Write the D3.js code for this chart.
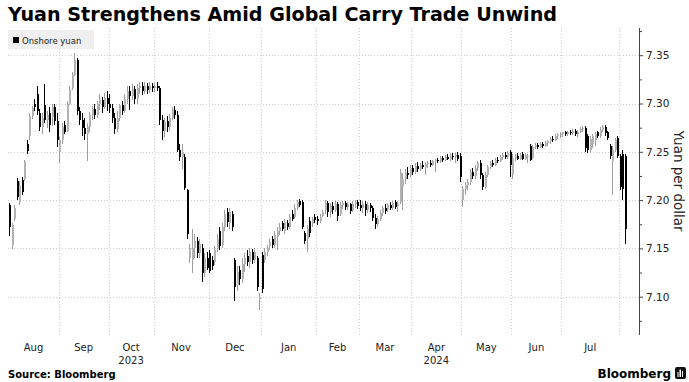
<!DOCTYPE html>
<html><head><meta charset="utf-8">
<script src="https://cdn.jsdelivr.net/npm/d3@7/dist/d3.min.js"></script>
<style>body{margin:0;background:#fff}svg{display:block}</style>
</head><body><svg id="c" width="689" height="382"></svg>
<script>
// ---- data ----
const months = ["Aug","Sep","Oct","Nov","Dec","Jan","Feb","Mar","Apr","May","Jun","Jul","Aug"];
const monthDays = [20,20,18,22,21,22,17,21,20,20,20,23,3];
const yearLabels = [{label:"2023", month:2},{label:"2024", month:8}];
const yTicks = [7.10,7.15,7.20,7.25,7.30,7.35];
const yMinorTicks = [7.075,7.125,7.175,7.225,7.275,7.325,7.375];

const opens = [
7.195,7.153,7.180,7.220,7.198,7.221,7.222,7.258,7.266,7.287,7.300,7.310,7.290,7.276,7.298,7.283,7.290,7.286,7.296,7.282,
7.250,7.262,7.278,7.272,7.300,7.316,7.330,7.345,7.292,7.283,7.275,7.268,7.276,7.288,7.294,7.288,7.299,7.304,7.296,7.306,
7.300,7.295,7.285,7.274,7.285,7.298,7.292,7.305,7.313,7.308,7.315,7.305,7.316,7.318,7.313,7.318,7.314,7.318,
7.316,7.318,7.316,7.283,7.272,7.282,7.276,7.285,7.293,7.288,7.252,7.245,7.245,7.210,7.140,7.138,7.150,7.158,7.145,7.150,7.125,7.140,
7.145,7.138,7.136,7.150,7.168,7.154,7.172,7.188,7.176,7.186,7.138,7.112,7.128,7.118,7.134,7.142,7.136,7.146,7.138,7.140,7.098,
7.143,7.138,7.146,7.152,7.160,7.154,7.162,7.168,7.176,7.168,7.176,7.172,7.186,7.182,7.192,7.199,7.198,7.166,7.160,7.178,7.175,7.182,
7.180,7.178,7.184,7.190,7.197,7.188,7.194,7.190,7.196,7.186,7.195,7.197,7.193,7.196,7.190,7.196,7.198,
7.195,7.192,7.196,7.190,7.195,7.192,7.181,7.175,7.180,7.187,7.192,7.190,7.195,7.192,7.198,7.194,7.198,7.214,7.222,7.228,7.226,
7.233,7.229,7.235,7.232,7.236,7.234,7.237,7.238,7.236,7.240,7.241,7.240,7.244,7.242,7.245,7.243,7.246,7.245,7.247,7.246,
7.200,7.212,7.216,7.219,7.229,7.225,7.233,7.238,7.226,7.214,7.226,7.234,7.238,7.236,7.242,7.240,7.245,7.247,7.245,7.250,
7.226,7.244,7.246,7.243,7.248,7.243,7.245,7.256,7.244,7.255,7.257,7.255,7.258,7.256,7.259,7.261,7.263,7.262,7.266,7.267,
7.268,7.270,7.268,7.271,7.269,7.272,7.268,7.271,7.274,7.275,7.266,7.252,7.258,7.262,7.270,7.266,7.273,7.276,7.270,7.256,7.240,7.252,7.264,
7.246,7.248,7.246];
const highs = [
7.197,7.176,7.195,7.223,7.220,7.224,7.242,7.262,7.290,7.297,7.305,7.318,7.294,7.290,7.320,7.292,7.296,7.300,7.300,7.290,
7.265,7.280,7.282,7.303,7.318,7.333,7.352,7.347,7.296,7.290,7.285,7.280,7.291,7.297,7.300,7.303,7.310,7.307,7.311,7.313,
7.310,7.300,7.290,7.292,7.300,7.303,7.310,7.318,7.318,7.320,7.318,7.320,7.322,7.322,7.322,7.321,7.322,7.321,
7.321,7.322,7.318,7.288,7.285,7.287,7.289,7.296,7.297,7.292,7.258,7.258,7.248,7.212,7.155,7.170,7.165,7.162,7.160,7.155,7.145,7.146,
7.148,7.142,7.152,7.165,7.172,7.176,7.190,7.192,7.192,7.189,7.140,7.132,7.132,7.140,7.145,7.148,7.150,7.149,7.150,7.142,7.104,
7.146,7.150,7.154,7.160,7.163,7.168,7.172,7.176,7.178,7.180,7.179,7.186,7.190,7.196,7.200,7.201,7.200,7.168,7.174,7.182,7.182,7.186,
7.184,7.186,7.190,7.200,7.199,7.197,7.198,7.199,7.198,7.198,7.199,7.199,7.198,7.197,7.199,7.200,7.200,
7.200,7.199,7.199,7.198,7.197,7.194,7.186,7.184,7.190,7.194,7.196,7.197,7.198,7.199,7.200,7.199,7.232,7.228,7.232,7.234,7.236,
7.236,7.238,7.239,7.238,7.240,7.239,7.240,7.241,7.242,7.243,7.244,7.246,7.246,7.247,7.248,7.249,7.249,7.249,7.250,7.249,
7.215,7.219,7.222,7.232,7.233,7.236,7.240,7.242,7.228,7.229,7.236,7.240,7.242,7.244,7.245,7.247,7.249,7.250,7.251,7.252,
7.248,7.248,7.249,7.249,7.250,7.249,7.248,7.258,7.257,7.259,7.259,7.260,7.260,7.261,7.262,7.265,7.266,7.268,7.269,7.270,
7.271,7.272,7.272,7.273,7.274,7.274,7.273,7.276,7.277,7.277,7.268,7.266,7.268,7.270,7.272,7.276,7.278,7.278,7.272,7.258,7.256,7.264,7.266,
7.248,7.252,7.248];
const lows = [
7.163,7.149,7.178,7.200,7.195,7.205,7.220,7.248,7.262,7.284,7.292,7.288,7.272,7.268,7.280,7.275,7.270,7.277,7.278,7.255,
7.238,7.258,7.268,7.270,7.298,7.314,7.328,7.288,7.278,7.266,7.262,7.240,7.270,7.283,7.284,7.285,7.293,7.290,7.294,7.292,
7.290,7.280,7.268,7.270,7.282,7.288,7.290,7.300,7.293,7.304,7.300,7.300,7.310,7.309,7.310,7.310,7.311,7.312,
7.312,7.313,7.278,7.262,7.265,7.270,7.272,7.283,7.284,7.250,7.240,7.232,7.210,7.160,7.135,7.125,7.140,7.140,7.140,7.115,7.120,7.128,
7.124,7.128,7.133,7.146,7.148,7.150,7.168,7.172,7.170,7.168,7.096,7.106,7.112,7.114,7.126,7.132,7.130,7.134,7.135,7.106,7.086,
7.104,7.135,7.142,7.148,7.150,7.150,7.148,7.164,7.168,7.165,7.169,7.170,7.178,7.180,7.190,7.193,7.170,7.155,7.146,7.162,7.172,7.176,
7.174,7.176,7.182,7.186,7.182,7.183,7.186,7.188,7.178,7.184,7.191,7.190,7.190,7.186,7.188,7.192,7.191,
7.189,7.187,7.184,7.187,7.188,7.178,7.170,7.172,7.178,7.184,7.186,7.188,7.190,7.190,7.191,7.188,7.196,7.190,7.217,7.222,7.224,
7.226,7.227,7.229,7.230,7.232,7.226,7.233,7.234,7.235,7.229,7.238,7.238,7.239,7.240,7.241,7.240,7.242,7.238,7.240,7.219,
7.193,7.205,7.210,7.216,7.222,7.222,7.230,7.222,7.210,7.212,7.224,7.232,7.234,7.235,7.238,7.239,7.242,7.243,7.243,7.224,
7.222,7.240,7.241,7.242,7.241,7.242,7.238,7.240,7.243,7.253,7.253,7.254,7.254,7.255,7.256,7.258,7.260,7.261,7.263,7.264,
7.265,7.266,7.266,7.267,7.267,7.266,7.265,7.269,7.270,7.250,7.249,7.250,7.254,7.256,7.264,7.264,7.270,7.266,7.262,7.243,7.205,7.250,7.244,
7.210,7.200,7.155];
const closes = [
7.172,7.174,7.192,7.203,7.216,7.208,7.240,7.251,7.287,7.295,7.296,7.292,7.276,7.285,7.283,7.288,7.278,7.296,7.282,7.262,
7.262,7.276,7.271,7.300,7.315,7.330,7.345,7.292,7.283,7.275,7.268,7.276,7.288,7.294,7.288,7.299,7.304,7.296,7.306,7.300,
7.295,7.285,7.274,7.285,7.298,7.292,7.305,7.313,7.308,7.315,7.305,7.316,7.318,7.313,7.318,7.314,7.318,7.316,
7.318,7.316,7.283,7.272,7.282,7.276,7.285,7.293,7.288,7.252,7.245,7.250,7.213,7.165,7.150,7.150,7.158,7.145,7.155,7.125,7.140,7.130,
7.127,7.132,7.148,7.160,7.152,7.172,7.186,7.177,7.188,7.172,7.110,7.126,7.118,7.134,7.140,7.136,7.146,7.138,7.146,7.110,7.100,
7.108,7.146,7.150,7.157,7.154,7.164,7.168,7.172,7.170,7.177,7.172,7.182,7.180,7.192,7.198,7.195,7.172,7.158,7.170,7.166,7.180,7.179,
7.178,7.183,7.188,7.197,7.188,7.194,7.190,7.196,7.184,7.195,7.197,7.193,7.196,7.189,7.196,7.198,7.194,
7.192,7.196,7.190,7.195,7.192,7.181,7.175,7.180,7.187,7.192,7.189,7.195,7.192,7.197,7.193,7.196,7.229,7.222,7.228,7.226,7.233,
7.229,7.235,7.232,7.236,7.234,7.237,7.238,7.236,7.240,7.241,7.240,7.244,7.242,7.245,7.243,7.246,7.245,7.247,7.243,7.224,
7.212,7.216,7.219,7.229,7.225,7.233,7.238,7.226,7.214,7.226,7.234,7.238,7.236,7.242,7.240,7.245,7.247,7.245,7.249,7.236,
7.244,7.246,7.243,7.247,7.243,7.247,7.246,7.242,7.255,7.257,7.255,7.258,7.256,7.259,7.261,7.263,7.262,7.266,7.267,7.268,
7.270,7.268,7.271,7.269,7.272,7.268,7.271,7.274,7.275,7.254,7.252,7.263,7.266,7.268,7.266,7.273,7.276,7.269,7.264,7.246,7.252,7.262,7.246,
7.214,7.212,7.170];

// ---- layout ----
(function () {
const svg = d3.select("#c");
const N = d3.sum(monthDays);
const axisX = 639, plotTop = 28, plotBottom = 335;
const x = d3.scaleLinear().domain([0, N]).range([8.5, 626.5]);
const y = d3.scaleLinear().domain([7.0603, 7.3782]).range([plotBottom, plotTop]);
const FONT = "'DejaVu Sans', sans-serif";

// title
svg.append("text").attr("x", 8).attr("y", 21)
  .attr("font-family", FONT).attr("font-weight", "bold").attr("font-size", 20)
  .attr("textLength", 549).attr("lengthAdjust", "spacingAndGlyphs")
  .attr("fill", "#000").text("Yuan Strengthens Amid Global Carry Trade Unwind");

// gridlines
const grid = svg.append("g").attr("stroke", "#cfcfcf").attr("stroke-width", 1).attr("stroke-dasharray", "1,2");
grid.selectAll("line.h").data(yTicks).join("line").attr("class", "h")
  .attr("x1", 8).attr("x2", axisX).attr("y1", d => Math.round(y(d)) + 0.5).attr("y2", d => Math.round(y(d)) + 0.5);
const bounds = Array.from(d3.cumsum(monthDays));
const starts = [0, ...bounds.slice(0, -1)];
grid.selectAll("line.v").data(starts.slice(1)).join("line").attr("class", "v")
  .attr("x1", d => Math.round(x(d)) + 0.5).attr("x2", d => Math.round(x(d)) + 0.5)
  .attr("y1", plotTop).attr("y2", plotBottom);

// legend
svg.append("rect").attr("x", 8).attr("y", 30).attr("width", 86).attr("height", 19).attr("fill", "#efefef");
svg.append("rect").attr("x", 13).attr("y", 37).attr("width", 6).attr("height", 6).attr("fill", "#000");
svg.append("text").attr("x", 22).attr("y", 43.5).attr("font-family", FONT).attr("font-size", 8.5)
  .attr("fill", "#222").text("Onshore yuan");

// candles
const idx = d3.range(N);
const cg = svg.append("g").attr("shape-rendering", "crispEdges");
const up = i => closes[i] >= opens[i];
cg.selectAll("rect.w").data(idx).join("rect").attr("class", "w")
  .attr("x", i => Math.floor(x(i + 0.5)))
  .attr("width", 1)
  .attr("y", i => y(highs[i]))
  .attr("height", i => Math.max(1, y(lows[i]) - y(highs[i])))
  .attr("fill", i => up(i) ? "#9d9d9d" : "#000");
cg.selectAll("rect.b").data(idx).join("rect").attr("class", "b")
  .attr("x", i => Math.floor(x(i + 0.5)) - 0.5)
  .attr("width", 2)
  .attr("y", i => y(Math.max(opens[i], closes[i])))
  .attr("height", i => Math.max(1, Math.abs(y(opens[i]) - y(closes[i]))))
  .attr("fill", i => up(i) ? "#b3b3b3" : "#000");

// y axis (right)
const ax = svg.append("g").attr("transform", `translate(${axisX},0)`);
ax.call(d3.axisRight(y).tickValues(yTicks).tickSize(4).tickPadding(3).tickSizeOuter(0).tickFormat(d3.format(".2f")));
ax.append("g").call(d3.axisRight(y).tickValues(yMinorTicks).tickSize(3).tickSizeOuter(0).tickFormat(""))
  .select(".domain").remove();
ax.selectAll(".domain").attr("stroke", "#444").attr("d", `M0.5,${plotTop}V${plotBottom}`);
ax.selectAll(".tick line").attr("stroke", "#444");
ax.selectAll(".tick text").attr("font-family", FONT).attr("font-size", 10.5).attr("fill", "#222");
svg.append("text").attr("transform", "translate(674,181) rotate(90)")
  .attr("text-anchor", "middle").attr("font-family", FONT).attr("font-size", 13.5)
  .attr("fill", "#222").text("Yuan per dollar");

// x labels
svg.append("g").selectAll("text").data(months.slice(0, -1)).join("text")
  .attr("x", (d, i) => x(starts[i] + monthDays[i] / 2))
  .attr("y", 351).attr("text-anchor", "middle")
  .attr("font-family", FONT).attr("font-size", 10).attr("fill", "#222")
  .text(d => d);
svg.append("g").selectAll("text").data(yearLabels).join("text")
  .attr("x", d => x(starts[d.month] + monthDays[d.month] / 2))
  .attr("y", 364).attr("text-anchor", "middle")
  .attr("font-family", FONT).attr("font-size", 10).attr("fill", "#222")
  .text(d => d.label);

// footer
svg.append("text").attr("x", 8).attr("y", 378).attr("font-family", FONT).attr("font-weight", "bold")
  .attr("font-size", 10).attr("fill", "#000").text("Source: Bloomberg");
svg.append("text").attr("x", 671).attr("y", 378).attr("text-anchor", "end").attr("font-family", FONT)
  .attr("font-weight", "bold").attr("font-size", 12).attr("fill", "#000").text("Bloomberg");
svg.append("rect").attr("x", 675).attr("y", 367).attr("width", 11).attr("height", 12).attr("rx", 2).attr("fill", "#111");
svg.append("g").attr("fill", "#fff").selectAll("rect").data([[677.5,372,1,5],[679.5,369.5,1.5,7.5],[682,371,1,6]]).join("rect")
  .attr("x", d => d[0]).attr("y", d => d[1]).attr("width", d => d[2]).attr("height", d => d[3]);
})();
</script></body></html>
